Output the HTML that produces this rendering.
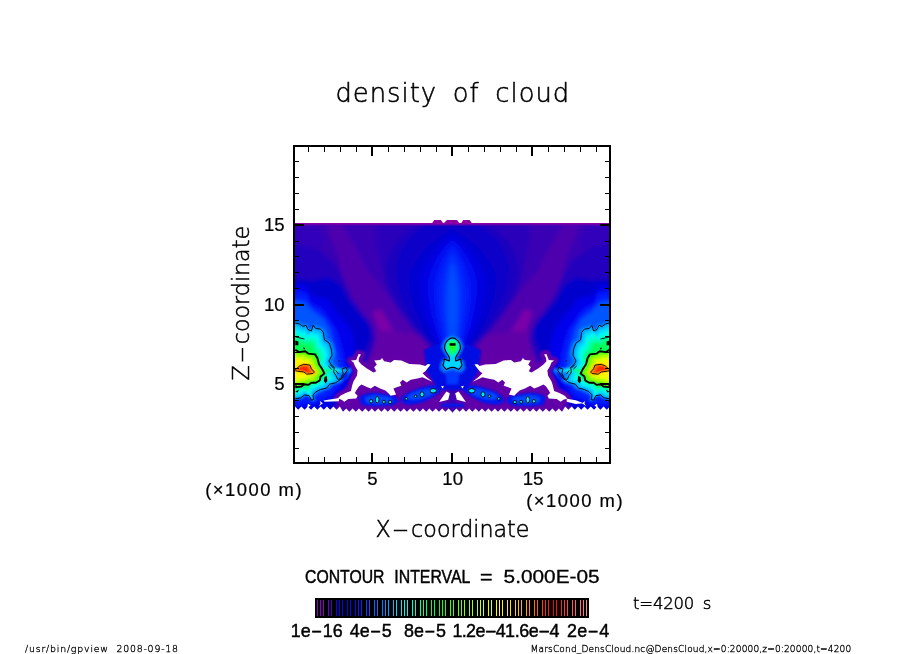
<!DOCTYPE html>
<html><head><meta charset="utf-8"><title>density of cloud</title>
<style>html,body{margin:0;padding:0;background:#fff;overflow:hidden}svg{display:block}text{fill:#000}.th{stroke:#000;stroke-width:.5px}.sm{stroke:#000;stroke-width:.3px}.tk{stroke:#000;stroke-width:.2px}.m2{stroke:#000;stroke-width:.3px}.md{stroke:#000;stroke-width:.45px}</style>
</head><body>
<svg width="904" height="654" viewBox="0 0 904 654">
<defs>
<clipPath id="fc"><rect x="295" y="223" width="314" height="190"/></clipPath>
<filter id="bl3" x="-10%" y="-10%" width="120%" height="120%"><feGaussianBlur stdDeviation="2.2"/></filter>
<filter id="bl1" x="-10%" y="-10%" width="120%" height="120%"><feGaussianBlur stdDeviation="1.1"/></filter>
</defs>
<rect width="904" height="654" fill="#fff"/>
<g clip-path="url(#fc)">
<rect x="280" y="215" width="345" height="205" fill="#3a00b4"/>
<g filter="url(#bl3)"><polygon points="326.0,222.0 331.0,240.0 338.0,255.0 342.0,272.0 346.0,290.0 358.0,305.0 365.0,318.0 370.0,332.0 385.0,362.0 440.0,362.0 414.0,330.0 398.0,310.0 384.0,290.0 366.5,270.0 357.0,250.0 348.0,235.0 340.0,222.0" fill="#5000ae"/><polygon points="579.0,222.0 574.0,240.0 567.0,255.0 563.0,272.0 559.0,290.0 547.0,305.0 540.0,318.0 535.0,332.0 520.0,362.0 465.0,362.0 491.0,330.0 507.0,310.0 521.0,290.0 538.5,270.0 548.0,250.0 557.0,235.0 565.0,222.0" fill="#5000ae"/><polygon points="373.0,312.0 380.0,309.0 392.0,328.0 400.0,346.0 388.0,346.0 378.0,328.0" fill="#7c00a8"/><polygon points="532.0,312.0 525.0,309.0 513.0,328.0 505.0,346.0 517.0,346.0 527.0,328.0" fill="#7c00a8"/><polygon points="345.0,340.0 380.0,330.0 420.0,335.0 445.0,350.0 450.0,412.0 330.0,412.0 335.0,380.0" fill="#6000a8"/><polygon points="560.0,340.0 525.0,330.0 485.0,335.0 460.0,350.0 455.0,412.0 575.0,412.0 570.0,380.0" fill="#6000a8"/><polygon points="280.0,226.0 318.0,226.0 325.0,240.0 318.0,262.0 280.0,266.0" fill="#3000ba"/><polygon points="625.0,226.0 587.0,226.0 580.0,240.0 587.0,262.0 625.0,266.0" fill="#3000ba"/><polygon points="378.5,222.0 374.5,230.0 377.5,250.0 382.5,272.0 386.5,290.0 398.5,310.0 414.5,330.0 428.5,346.0 452.5,364.0 476.5,346.0 490.5,330.0 506.5,310.0 518.5,290.0 522.5,272.0 527.5,250.0 530.5,230.0 526.5,222.0" fill="#2a00ba"/><polygon points="421.3,222.0 404.7,232.0 392.2,247.0 385.9,265.0 387.0,281.0 393.2,298.0 402.6,315.0 415.1,331.0 426.5,342.0 439.0,354.0 452.5,364.0 466.0,354.0 478.5,342.0 489.9,331.0 502.4,315.0 511.8,298.0 518.0,281.0 519.1,265.0 512.8,247.0 500.3,232.0 483.7,222.0" fill="#1a00c0"/><polygon points="426.1,225.0 412.0,234.8 401.5,249.5 396.2,267.1 397.1,282.8 402.3,299.4 410.3,316.0 420.8,331.7 430.5,342.5 441.1,354.2 452.5,364.0 463.9,354.2 474.5,342.5 484.2,331.7 494.7,316.0 502.7,299.4 507.9,282.8 508.8,267.1 503.5,249.5 493.0,234.8 478.9,225.0" fill="#0a00c8"/><polygon points="452.5,229.0 439.4,237.1 426.4,247.9 415.5,261.4 409.0,274.9 410.3,291.1 414.2,307.3 421.2,323.5 428.6,337.0 439.4,350.5 452.5,364.0 465.6,350.5 476.4,337.0 483.8,323.5 490.8,307.3 494.7,291.1 496.0,274.9 489.5,261.4 478.6,247.9 465.6,237.1 452.5,229.0" fill="#0000d2"/><polygon points="452.5,234.0 442.5,241.8 432.5,252.2 424.2,265.2 419.2,278.2 420.2,293.8 423.2,309.4 428.5,325.0 434.2,338.0 442.5,351.0 452.5,364.0 462.5,351.0 470.8,338.0 476.5,325.0 481.8,309.4 484.8,293.8 485.8,278.2 480.8,265.2 472.5,252.2 462.5,241.8 452.5,234.0" fill="#0000e1"/><polygon points="452.5,239.0 445.0,246.5 437.5,256.5 431.3,269.0 427.5,281.5 428.3,296.5 430.5,311.5 434.5,326.5 438.8,339.0 445.0,351.5 452.5,364.0 460.0,351.5 466.2,339.0 470.5,326.5 474.5,311.5 476.7,296.5 477.5,281.5 473.7,269.0 467.5,256.5 460.0,246.5 452.5,239.0" fill="#000af0"/><polygon points="452.5,245.0 447.1,252.1 441.7,261.7 437.3,273.6 434.6,285.5 435.1,299.7 436.7,314.0 439.6,328.3 442.6,340.2 447.1,352.1 452.5,364.0 457.9,352.1 462.4,340.2 465.4,328.3 468.3,314.0 469.9,299.7 470.4,285.5 467.7,273.6 463.3,261.7 457.9,252.1 452.5,245.0" fill="#001efa"/><polygon points="452.5,252.0 449.2,258.7 446.0,267.7 443.3,278.9 441.6,290.1 441.9,303.5 442.9,317.0 444.7,330.4 446.5,341.6 449.2,352.8 452.5,364.0 455.8,352.8 458.5,341.6 460.3,330.4 462.1,317.0 463.1,303.5 463.4,290.1 461.7,278.9 459.0,267.7 455.8,258.7 452.5,252.0" fill="#0032ff"/><polygon points="452.5,262.0 450.9,268.1 449.2,276.3 447.9,286.5 447.1,296.7 447.2,308.9 447.7,321.2 448.6,333.4 449.5,343.6 450.9,353.8 452.5,364.0 454.1,353.8 455.5,343.6 456.4,333.4 457.3,321.2 457.8,308.9 457.9,296.7 457.1,286.5 455.8,276.3 454.1,268.1 452.5,262.0" fill="#004eff"/><polygon points="270.0,246.0 300.0,244.0 318.0,250.0 334.0,262.0 344.0,280.0 352.0,298.0 362.0,312.0 371.0,324.0 376.0,338.0 372.0,352.0 366.0,366.0 270.0,366.0" fill="#2200be"/><polygon points="635.0,246.0 605.0,244.0 587.0,250.0 571.0,262.0 561.0,280.0 553.0,298.0 543.0,312.0 534.0,324.0 529.0,338.0 533.0,352.0 539.0,366.0 635.0,366.0" fill="#2200be"/><polygon points="270.0,279.0 295.0,279.0 313.0,280.5 328.0,277.5 340.4,285.0 348.0,300.4 357.0,311.0 366.4,320.0 371.0,329.5 369.5,341.7 364.0,352.0 359.0,366.0 353.0,380.0 345.0,394.0 332.0,414.0 270.0,414.0" fill="#0000cc"/><polygon points="635.0,279.0 610.0,279.0 592.0,280.5 577.0,277.5 564.6,285.0 557.0,300.4 548.0,311.0 538.6,320.0 534.0,329.5 535.5,341.7 541.0,352.0 546.0,366.0 552.0,380.0 560.0,394.0 573.0,414.0 635.0,414.0" fill="#0000cc"/><polygon points="270.0,285.0 295.0,285.0 305.0,285.0 313.0,296.0 328.0,299.0 336.0,311.0 343.5,319.0 351.0,329.5 354.0,341.7 355.0,354.0 354.0,366.0 348.0,382.0 338.0,398.0 325.0,408.0 270.0,410.0" fill="#0000ec"/><polygon points="635.0,285.0 610.0,285.0 600.0,285.0 592.0,296.0 577.0,299.0 569.0,311.0 561.5,319.0 554.0,329.5 551.0,341.7 550.0,354.0 551.0,366.0 557.0,382.0 567.0,398.0 580.0,408.0 635.0,410.0" fill="#0000ec"/><polygon points="270.0,291.0 295.0,291.0 307.0,293.0 310.0,303.5 320.5,308.0 328.0,317.0 336.0,329.5 340.4,341.7 343.0,354.0 345.0,366.0 342.0,382.0 330.0,396.0 312.0,404.0 270.0,406.0" fill="#001cff"/><polygon points="635.0,291.0 610.0,291.0 598.0,293.0 595.0,303.5 584.5,308.0 577.0,317.0 569.0,329.5 564.6,341.7 562.0,354.0 560.0,366.0 563.0,382.0 575.0,396.0 593.0,404.0 635.0,406.0" fill="#001cff"/><polygon points="270.0,300.4 295.0,300.4 305.0,302.0 313.0,311.0 323.6,319.0 329.7,329.5 332.8,341.7 336.0,354.0 338.0,364.0 334.0,380.0 322.0,392.0 270.0,400.0" fill="#0054ff"/><polygon points="635.0,300.4 610.0,300.4 600.0,302.0 592.0,311.0 581.4,319.0 575.3,329.5 572.2,341.7 569.0,354.0 567.0,364.0 571.0,380.0 583.0,392.0 635.0,400.0" fill="#0054ff"/></g>
<g filter="url(#bl1)"><polygon points="279.3,319.1 295.3,320.7 299.5,321.5 303.7,324.2 307.0,323.1 309.2,327.4 312.9,329.1 315.0,323.1 317.6,326.3 323.0,327.1 326.0,330.3 327.2,338.4 332.3,341.6 334.8,348.0 335.6,354.4 332.3,360.5 334.4,364.4 338.1,367.2 337.3,372.1 339.8,375.6 341.8,379.8 345.2,379.3 347.9,373.7 346.6,369.2 351.3,367.2 352.4,370.4 348.6,375.6 346.6,378.8 339.8,383.3 333.1,384.9 329.7,388.9 323.0,390.5 318.0,392.9 314.6,396.1 315.5,400.9 312.9,401.7 310.4,396.9 305.4,396.1 301.2,399.3 295.3,400.1 279.3,400.9" fill="#0078ff"/><polygon points="625.7,319.1 609.7,320.7 605.5,321.5 601.3,324.2 598.0,323.1 595.8,327.4 592.1,329.1 590.0,323.1 587.4,326.3 582.0,327.1 579.0,330.3 577.8,338.4 572.7,341.6 570.2,348.0 569.4,354.4 572.7,360.5 570.6,364.4 566.9,367.2 567.7,372.1 565.2,375.6 563.2,379.8 559.8,379.3 557.1,373.7 558.4,369.2 553.7,367.2 552.6,370.4 556.4,375.6 558.4,378.8 565.2,383.3 571.9,384.9 575.3,388.9 582.0,390.5 587.0,392.9 590.4,396.1 589.5,400.9 592.1,401.7 594.6,396.9 599.6,396.1 603.8,399.3 609.7,400.1 625.7,400.9" fill="#0078ff"/><polygon points="280.8,321.5 295.3,323.1 299.2,323.8 303.0,326.4 306.0,325.3 308.0,329.5 311.4,331.0 313.2,325.3 315.7,328.4 320.6,329.2 323.3,332.2 324.4,339.9 329.0,342.9 331.3,349.0 332.0,355.1 329.0,361.0 331.0,364.6 334.3,367.4 333.6,372.0 335.8,375.3 337.7,379.3 340.7,378.8 343.2,373.5 342.0,369.2 346.2,367.4 347.3,370.4 343.8,375.3 342.0,378.4 335.8,382.7 329.7,384.2 326.7,388.0 320.6,389.5 316.0,391.8 312.9,394.9 313.7,399.5 311.4,400.2 309.1,395.6 304.5,394.9 300.7,397.9 295.3,398.7 280.8,399.5" fill="#00aaff"/><polygon points="624.2,321.5 609.7,323.1 605.8,323.8 602.0,326.4 599.0,325.3 597.0,329.5 593.6,331.0 591.8,325.3 589.3,328.4 584.4,329.2 581.7,332.2 580.6,339.9 576.0,342.9 573.7,349.0 573.0,355.1 576.0,361.0 574.0,364.6 570.7,367.4 571.4,372.0 569.2,375.3 567.3,379.3 564.3,378.8 561.8,373.5 563.0,369.2 558.8,367.4 557.7,370.4 561.2,375.3 563.0,378.4 569.2,382.7 575.3,384.2 578.3,388.0 584.4,389.5 589.0,391.8 592.1,394.9 591.3,399.5 593.6,400.2 595.9,395.6 600.5,394.9 604.3,397.9 609.7,398.7 624.2,399.5" fill="#00aaff"/><polygon points="281.9,324.9 295.4,326.3 298.9,327.1 302.5,329.5 305.3,328.5 307.2,332.3 310.3,333.7 312.0,328.5 314.3,331.3 318.8,332.0 321.4,334.9 322.4,342.0 326.7,344.8 328.8,350.5 329.5,356.2 326.7,361.6 328.5,365.0 331.6,367.6 330.9,371.8 333.1,374.9 334.8,378.6 337.6,378.2 339.9,373.2 338.7,369.3 342.7,367.6 343.7,370.4 340.4,374.9 338.7,377.8 333.1,381.8 327.4,383.2 324.5,386.7 318.8,388.2 314.6,390.3 311.7,393.1 312.4,397.4 310.3,398.1 308.2,393.8 303.9,393.1 300.4,396.0 295.4,396.7 281.9,397.4" fill="#00d7ff"/><polygon points="623.1,324.9 609.6,326.3 606.1,327.1 602.5,329.5 599.7,328.5 597.8,332.3 594.7,333.7 593.0,328.5 590.7,331.3 586.2,332.0 583.6,334.9 582.6,342.0 578.3,344.8 576.2,350.5 575.5,356.2 578.3,361.6 576.5,365.0 573.4,367.6 574.1,371.8 571.9,374.9 570.2,378.6 567.4,378.2 565.1,373.2 566.3,369.3 562.3,367.6 561.3,370.4 564.6,374.9 566.3,377.8 571.9,381.8 577.6,383.2 580.5,386.7 586.2,388.2 590.4,390.3 593.3,393.1 592.6,397.4 594.7,398.1 596.8,393.8 601.1,393.1 604.6,396.0 609.6,396.7 623.1,397.4" fill="#00d7ff"/><polygon points="283.1,328.8 295.4,330.1 298.7,330.7 301.9,333.0 304.5,332.0 306.2,335.6 309.1,336.9 310.6,332.0 312.7,334.6 316.9,335.3 319.2,337.9 320.1,344.4 324.0,347.0 326.0,352.2 326.6,357.4 324.0,362.3 325.7,365.4 328.6,367.8 327.9,371.7 329.9,374.5 331.4,377.9 334.0,377.5 336.1,373.0 335.1,369.3 338.7,367.8 339.6,370.4 336.6,374.5 335.1,377.1 329.9,380.8 324.7,382.1 322.1,385.3 316.9,386.6 313.0,388.5 310.4,391.1 311.0,395.0 309.1,395.7 307.1,391.8 303.2,391.1 300.0,393.7 295.4,394.4 283.1,395.0" fill="#00faf0"/><polygon points="621.9,328.8 609.6,330.1 606.3,330.7 603.1,333.0 600.5,332.0 598.8,335.6 595.9,336.9 594.4,332.0 592.3,334.6 588.1,335.3 585.8,337.9 584.9,344.4 581.0,347.0 579.0,352.2 578.4,357.4 581.0,362.3 579.3,365.4 576.4,367.8 577.1,371.7 575.1,374.5 573.6,377.9 571.0,377.5 568.9,373.0 569.9,369.3 566.3,367.8 565.4,370.4 568.4,374.5 569.9,377.1 575.1,380.8 580.3,382.1 582.9,385.3 588.1,386.6 592.0,388.5 594.6,391.1 594.0,395.0 595.9,395.7 597.9,391.8 601.8,391.1 605.0,393.7 609.6,394.4 621.9,395.0" fill="#00faf0"/><polygon points="284.3,332.7 295.5,333.9 298.4,334.4 301.4,336.4 303.7,335.6 305.3,338.8 307.9,340.0 309.3,335.6 311.1,338.0 314.9,338.6 317.0,340.9 317.9,346.8 321.4,349.1 323.1,353.9 323.7,358.6 321.4,363.0 322.9,365.9 325.5,368.0 324.9,371.5 326.7,374.1 328.1,377.2 330.4,376.8 332.3,372.7 331.4,369.4 334.7,368.0 335.5,370.3 332.8,374.1 331.4,376.4 326.7,379.7 322.0,380.9 319.6,383.9 314.9,385.0 311.4,386.8 309.0,389.2 309.6,392.7 307.9,393.3 306.1,389.7 302.6,389.2 299.6,391.5 295.5,392.1 284.3,392.7" fill="#00ffbe"/><polygon points="620.7,332.7 609.5,333.9 606.6,334.4 603.6,336.4 601.3,335.6 599.7,338.8 597.1,340.0 595.7,335.6 593.9,338.0 590.1,338.6 588.0,340.9 587.1,346.8 583.6,349.1 581.9,353.9 581.3,358.6 583.6,363.0 582.1,365.9 579.5,368.0 580.1,371.5 578.3,374.1 576.9,377.2 574.6,376.8 572.7,372.7 573.6,369.4 570.3,368.0 569.5,370.3 572.2,374.1 573.6,376.4 578.3,379.7 583.0,380.9 585.4,383.9 590.1,385.0 593.6,386.8 596.0,389.2 595.4,392.7 597.1,393.3 598.9,389.7 602.4,389.2 605.4,391.5 609.5,392.1 620.7,392.7" fill="#00ffbe"/><polygon points="285.5,336.6 295.6,337.6 298.2,338.1 300.8,339.9 302.9,339.2 304.3,342.0 306.6,343.1 307.9,339.2 309.6,341.3 312.9,341.8 314.8,343.9 315.6,349.2 318.7,351.3 320.3,355.5 320.9,359.8 318.7,363.8 320.1,366.3 322.4,368.2 321.9,371.3 323.5,373.7 324.8,376.4 326.9,376.1 328.6,372.4 327.7,369.5 330.7,368.2 331.4,370.3 329.0,373.7 327.7,375.8 323.5,378.7 319.3,379.8 317.2,382.4 312.9,383.5 309.8,385.1 307.7,387.2 308.2,390.3 306.6,390.9 305.0,387.7 301.9,387.2 299.2,389.3 295.6,389.8 285.5,390.3" fill="#00ff8c"/><polygon points="619.5,336.6 609.4,337.6 606.8,338.1 604.2,339.9 602.1,339.2 600.7,342.0 598.4,343.1 597.1,339.2 595.4,341.3 592.1,341.8 590.2,343.9 589.4,349.2 586.3,351.3 584.7,355.5 584.1,359.8 586.3,363.8 584.9,366.3 582.6,368.2 583.1,371.3 581.5,373.7 580.2,376.4 578.1,376.1 576.4,372.4 577.3,369.5 574.3,368.2 573.6,370.3 576.0,373.7 577.3,375.8 581.5,378.7 585.7,379.8 587.8,382.4 592.1,383.5 595.2,385.1 597.3,387.2 596.8,390.3 598.4,390.9 600.0,387.7 603.1,387.2 605.8,389.3 609.4,389.8 619.5,390.3" fill="#00ff8c"/><polygon points="286.4,339.5 295.6,340.4 298.0,340.9 300.4,342.5 302.3,341.9 303.6,344.5 305.7,345.4 306.9,341.9 308.4,343.8 311.5,344.3 313.2,346.2 313.9,351.0 316.8,352.9 318.2,356.8 318.7,360.6 316.8,364.3 318.0,366.6 320.1,368.3 319.7,371.2 321.1,373.4 322.3,375.9 324.2,375.6 325.7,372.2 325.0,369.5 327.6,368.3 328.3,370.3 326.1,373.4 325.0,375.3 321.1,378.0 317.3,378.9 315.3,381.3 311.5,382.3 308.6,383.7 306.7,385.7 307.1,388.6 305.7,389.0 304.3,386.2 301.4,385.7 299.0,387.6 295.6,388.1 286.4,388.6" fill="#00ff5a"/><polygon points="618.6,339.5 609.4,340.4 607.0,340.9 604.6,342.5 602.7,341.9 601.4,344.5 599.3,345.4 598.1,341.9 596.6,343.8 593.5,344.3 591.8,346.2 591.1,351.0 588.2,352.9 586.8,356.8 586.3,360.6 588.2,364.3 587.0,366.6 584.9,368.3 585.3,371.2 583.9,373.4 582.7,375.9 580.8,375.6 579.3,372.2 580.0,369.5 577.4,368.3 576.7,370.3 578.9,373.4 580.0,375.3 583.9,378.0 587.7,378.9 589.7,381.3 593.5,382.3 596.4,383.7 598.3,385.7 597.9,388.6 599.3,389.0 600.7,386.2 603.6,385.7 606.0,387.6 609.4,388.1 618.6,388.6" fill="#00ff5a"/><polygon points="280.8,349.0 295.3,349.8 299.2,352.1 305.3,351.3 308.3,353.6 315.2,354.4 317.5,358.2 319.0,364.3 322.1,368.9 324.4,373.5 320.6,376.5 319.8,380.4 316.0,382.7 311.4,382.7 308.3,384.9 304.5,384.2 301.5,386.5 295.3,387.2 280.8,388.0" fill="#3cff00"/><polygon points="624.2,349.0 609.7,349.8 605.8,352.1 599.7,351.3 596.7,353.6 589.8,354.4 587.5,358.2 586.0,364.3 582.9,368.9 580.6,373.5 584.4,376.5 585.2,380.4 589.0,382.7 593.6,382.7 596.7,384.9 600.5,384.2 603.5,386.5 609.7,387.2 624.2,388.0" fill="#3cff00"/><polygon points="282.7,351.4 295.4,352.1 298.8,354.1 304.2,353.4 306.9,355.5 312.9,356.1 314.9,359.5 316.3,364.9 319.0,368.9 321.0,372.9 317.6,375.6 316.9,379.0 313.6,381.0 309.5,381.0 306.9,383.0 303.5,382.4 300.8,384.4 295.4,385.0 282.7,385.7" fill="#8cff00"/><polygon points="622.3,351.4 609.6,352.1 606.2,354.1 600.8,353.4 598.1,355.5 592.1,356.1 590.1,359.5 588.7,364.9 586.0,368.9 584.0,372.9 587.4,375.6 588.1,379.0 591.4,381.0 595.5,381.0 598.1,383.0 601.5,382.4 604.2,384.4 609.6,385.0 622.3,385.7" fill="#8cff00"/><polygon points="284.5,353.8 295.5,354.4 298.4,356.1 303.1,355.6 305.4,357.3 310.6,357.9 312.3,360.8 313.5,365.4 315.8,368.9 317.6,372.4 314.7,374.7 314.1,377.6 311.2,379.4 307.7,379.4 305.4,381.1 302.5,380.5 300.2,382.3 295.5,382.9 284.5,383.4" fill="#beff00"/><polygon points="620.5,353.8 609.5,354.4 606.6,356.1 601.9,355.6 599.6,357.3 594.4,357.9 592.7,360.8 591.5,365.4 589.2,368.9 587.4,372.4 590.3,374.7 590.9,377.6 593.8,379.4 597.3,379.4 599.6,381.1 602.5,380.5 604.8,382.3 609.5,382.9 620.5,383.4" fill="#beff00"/><polygon points="286.3,356.2 295.6,356.7 298.0,358.2 301.9,357.7 303.9,359.2 308.3,359.6 309.8,362.1 310.7,366.0 312.7,368.9 314.2,371.9 311.7,373.8 311.2,376.3 308.8,377.7 305.9,377.7 303.9,379.2 301.5,378.7 299.5,380.2 295.6,380.7 286.3,381.2" fill="#e6ff00"/><polygon points="618.7,356.2 609.4,356.7 607.0,358.2 603.1,357.7 601.1,359.2 596.7,359.6 595.2,362.1 594.3,366.0 592.3,368.9 590.8,371.9 593.3,373.8 593.8,376.3 596.2,377.7 599.1,377.7 601.1,379.2 603.5,378.7 605.5,380.2 609.4,380.7 618.7,381.2" fill="#e6ff00"/><polygon points="288.4,359.0 295.7,359.4 297.6,360.5 300.6,360.2 302.2,361.3 305.6,361.7 306.8,363.6 307.5,366.7 309.0,368.9 310.2,371.2 308.3,372.8 307.9,374.7 306.0,375.8 303.7,375.8 302.2,377.0 300.3,376.6 298.7,377.7 295.7,378.1 288.4,378.5" fill="#fff500"/><polygon points="616.6,359.0 609.3,359.4 607.4,360.5 604.4,360.2 602.8,361.3 599.4,361.7 598.2,363.6 597.5,366.7 596.0,368.9 594.8,371.2 596.7,372.8 597.1,374.7 599.0,375.8 601.3,375.8 602.8,377.0 604.7,376.6 606.3,377.7 609.3,378.1 616.6,378.5" fill="#fff500"/><polygon points="276.6,369.3 294.3,369.8 299.9,365.1 304.6,363.3 312.0,364.2 313.9,368.9 317.6,372.6 315.8,374.5 308.3,375.4 304.6,372.6 297.1,371.7 294.3,371.1 276.6,371.5" fill="#ffc800"/><polygon points="628.4,369.3 610.7,369.8 605.1,365.1 600.4,363.3 593.0,364.2 591.1,368.9 587.4,372.6 589.2,374.5 596.7,375.4 600.4,372.6 607.9,371.7 610.7,371.1 628.4,371.5" fill="#ffc800"/><polygon points="280.8,369.2 295.3,369.7 299.9,365.8 303.8,364.3 309.9,365.1 311.4,368.9 314.4,372.0 312.9,373.5 306.8,374.2 303.8,372.0 297.6,371.2 295.3,370.7 280.8,371.0" fill="#ff6400"/><polygon points="624.2,369.2 609.7,369.7 605.1,365.8 601.2,364.3 595.1,365.1 593.6,368.9 590.6,372.0 592.1,373.5 598.2,374.2 601.2,372.0 607.4,371.2 609.7,370.7 624.2,371.0" fill="#ff6400"/><polygon points="286.6,369.1 296.7,369.5 300.0,366.8 302.6,365.7 306.9,366.3 308.0,368.9 310.1,371.1 309.0,372.1 304.8,372.7 302.6,371.1 298.3,370.5 296.7,370.2 286.6,370.4" fill="#ff2800"/><polygon points="618.4,369.1 608.3,369.5 605.0,366.8 602.4,365.7 598.1,366.3 597.0,368.9 594.9,371.1 596.0,372.1 600.2,372.7 602.4,371.1 606.7,370.5 608.3,370.2 618.4,370.4" fill="#ff2800"/></g>
<g filter="url(#bl1)"><polygon points="350.9,360.6 356.2,359.9 358.6,353.9 360.9,354.6 358.9,357.9 358.6,361.2 361.5,364.6 366.9,368.5 373.5,372.5 376.2,371.2 374.2,367.2 376.8,364.6 374.2,360.6 380.1,359.9 382.1,357.9 384.1,361.2 390.8,362.6 394.1,359.9 401.4,360.6 409.3,363.9 420.0,364.6 425.3,365.9 427.9,363.9 430.6,364.6 427.9,367.9 425.3,371.2 422.6,373.2 426.6,377.2 432.6,381.8 427.9,379.8 422.6,377.2 417.3,378.5 410.7,379.8 406.7,382.5 402.7,379.8 400.0,382.5 401.4,385.8 397.4,387.1 393.4,388.5 396.1,394.4 390.8,395.8 388.1,393.1 385.4,390.4 380.1,388.5 374.8,385.8 370.8,388.5 366.9,387.1 361.5,384.5 358.9,386.5 356.2,390.4 354.9,393.1 357.6,395.8 356.2,398.4 348.3,399.1 344.3,401.7 341.6,399.7 337.7,398.4 340.3,395.8 345.6,393.1 350.9,391.1 352.3,385.1 353.6,381.2 356.9,375.8 357.6,370.5 354.9,365.9 353.6,362.6" fill="#6400a8" stroke="#6400a8" stroke-width="8" stroke-linejoin="round"/><polygon points="554.1,360.6 548.8,359.9 546.4,353.9 544.1,354.6 546.1,357.9 546.4,361.2 543.5,364.6 538.1,368.5 531.5,372.5 528.8,371.2 530.8,367.2 528.2,364.6 530.8,360.6 524.9,359.9 522.9,357.9 520.9,361.2 514.2,362.6 510.9,359.9 503.6,360.6 495.7,363.9 485.0,364.6 479.7,365.9 477.1,363.9 474.4,364.6 477.1,367.9 479.7,371.2 482.4,373.2 478.4,377.2 472.4,381.8 477.1,379.8 482.4,377.2 487.7,378.5 494.3,379.8 498.3,382.5 502.3,379.8 505.0,382.5 503.6,385.8 507.6,387.1 511.6,388.5 508.9,394.4 514.2,395.8 516.9,393.1 519.6,390.4 524.9,388.5 530.2,385.8 534.2,388.5 538.1,387.1 543.5,384.5 546.1,386.5 548.8,390.4 550.1,393.1 547.4,395.8 548.8,398.4 556.7,399.1 560.7,401.7 563.4,399.7 567.3,398.4 564.7,395.8 559.4,393.1 554.1,391.1 552.7,385.1 551.4,381.2 548.1,375.8 547.4,370.5 550.1,365.9 551.4,362.6" fill="#6400a8" stroke="#6400a8" stroke-width="8" stroke-linejoin="round"/></g>
<g filter="url(#bl1)"><polygon points="358.9,397.1 365.5,393.8 374.8,392.4 388.1,394.4 397.4,397.1 398.7,402.4 390.8,405.7 374.8,406.4 361.5,405.0" fill="#0018f0"/><polygon points="546.1,397.1 539.5,393.8 530.2,392.4 516.9,394.4 507.6,397.1 506.3,402.4 514.2,405.7 530.2,406.4 543.5,405.0" fill="#0018f0"/><polygon points="364.6,398.0 369.3,396.1 375.8,395.3 385.1,396.5 391.6,398.0 392.5,401.2 386.9,403.2 375.8,403.6 366.5,402.8" fill="#0046ff"/><polygon points="540.4,398.0 535.7,396.1 529.2,395.3 519.9,396.5 513.4,398.0 512.5,401.2 518.1,403.2 529.2,403.6 538.5,402.8" fill="#0046ff"/><polygon points="401.4,397.1 409.3,391.8 420.0,387.8 430.6,385.1 439.9,386.5 441.2,391.8 433.2,397.1 422.6,402.4 409.3,405.0 401.4,402.4" fill="#0018f0"/><polygon points="503.6,397.1 495.7,391.8 485.0,387.8 474.4,385.1 465.1,386.5 463.8,391.8 471.8,397.1 482.4,402.4 495.7,405.0 503.6,402.4" fill="#0018f0"/><polygon points="407.3,395.7 412.8,392.8 420.3,390.6 427.7,389.1 434.2,389.9 435.1,392.8 429.6,395.7 422.1,398.6 412.8,400.1 407.3,398.6" fill="#0046ff"/><polygon points="497.7,395.7 492.2,392.8 484.7,390.6 477.3,389.1 470.8,389.9 469.9,392.8 475.4,395.7 482.9,398.6 492.2,400.1 497.7,398.6" fill="#0046ff"/><polygon points="424.0,350.0 436.0,344.0 469.0,344.0 481.0,350.0 478.0,372.0 466.0,390.0 439.0,390.0 427.0,372.0" fill="#0008e2"/><polygon points="445.0,366.0 460.0,366.0 458.0,384.0 447.0,384.0" fill="#0038ff"/><polygon points="441.0,403.5 464.0,403.5 464.0,407.0 441.0,407.0" fill="#0014ec"/><polygon points="452.5,335.0 449.0,335.9 445.5,338.3 442.4,342.4 441.7,347.4 443.7,352.0 446.7,356.0 448.4,359.2 448.2,362.8 441.3,360.4 440.9,364.0 439.7,367.8 441.7,370.7 444.1,372.9 448.4,371.1 452.5,370.2 452.5,370.2 456.6,371.1 460.9,372.9 463.3,370.7 465.3,367.8 464.1,364.0 463.7,360.4 456.8,362.8 456.6,359.2 458.3,356.0 461.3,352.0 463.3,347.4 462.6,342.4 459.5,338.3 456.0,335.9 452.5,335.0" fill="#006eff"/><polygon points="452.5,337.8 449.9,338.6 447.3,340.6 445.0,344.0 444.5,348.2 446.0,352.0 448.2,355.3 449.5,358.0 449.3,361.0 444.2,359.0 443.9,362.0 443.0,365.2 444.5,367.6 446.3,369.4 449.5,367.9 452.5,367.2 452.5,367.2 455.5,367.9 458.7,369.4 460.5,367.6 462.0,365.2 461.1,362.0 460.8,359.0 455.7,361.0 455.5,358.0 456.8,355.3 459.0,352.0 460.5,348.2 460.0,344.0 457.7,340.6 455.1,338.6 452.5,337.8" fill="#00d7ff"/><polygon points="452.5,339.5 448.5,341.0 446.5,345.5 447.0,350.0 449.5,354.0 452.5,356.0 452.5,356.0 455.5,354.0 458.0,350.0 458.5,345.5 456.5,341.0 452.5,339.5" fill="#00ff78"/><polygon points="452.5,341.5 449.5,343.0 448.7,346.5 450.0,350.0 452.5,352.0 452.5,352.0 455.0,350.0 456.3,346.5 455.5,343.0 452.5,341.5" fill="#28ff28"/></g>
<ellipse cx="377.2" cy="399.7" rx="1.8" ry="3.2" fill="#00e8ff" stroke="#000" stroke-width="0.9"/><ellipse cx="527.8" cy="399.7" rx="1.8" ry="3.2" fill="#00e8ff" stroke="#000" stroke-width="0.9"/><ellipse cx="371.1" cy="401.3" rx="1.6" ry="1.8" fill="#00e8ff" stroke="#000" stroke-width="0.9"/><ellipse cx="533.9" cy="401.3" rx="1.6" ry="1.8" fill="#00e8ff" stroke="#000" stroke-width="0.9"/><ellipse cx="383.9" cy="401.9" rx="1.4" ry="1.6" fill="#00e8ff" stroke="#000" stroke-width="0.9"/><ellipse cx="521.1" cy="401.9" rx="1.4" ry="1.6" fill="#00e8ff" stroke="#000" stroke-width="0.9"/><ellipse cx="390.1" cy="402.1" rx="1.6" ry="1.6" fill="#00e8ff" stroke="#000" stroke-width="0.9"/><ellipse cx="514.9" cy="402.1" rx="1.6" ry="1.6" fill="#00e8ff" stroke="#000" stroke-width="0.9"/><ellipse cx="433.2" cy="390.8" rx="3.2" ry="2.2" fill="#00e8ff" stroke="#000" stroke-width="0.9"/><ellipse cx="471.8" cy="390.8" rx="3.2" ry="2.2" fill="#00e8ff" stroke="#000" stroke-width="0.9"/><ellipse cx="422.0" cy="394.4" rx="2.0" ry="2.6" fill="#00e8ff" stroke="#000" stroke-width="0.9"/><ellipse cx="483.0" cy="394.4" rx="2.0" ry="2.6" fill="#00e8ff" stroke="#000" stroke-width="0.9"/><ellipse cx="415.6" cy="396.2" rx="1.3" ry="1.3" fill="#00e8ff" stroke="#000" stroke-width="0.9"/><ellipse cx="489.4" cy="396.2" rx="1.3" ry="1.3" fill="#00e8ff" stroke="#000" stroke-width="0.9"/><ellipse cx="406.3" cy="398.8" rx="1.3" ry="1.3" fill="#00e8ff" stroke="#000" stroke-width="0.9"/><ellipse cx="498.7" cy="398.8" rx="1.3" ry="1.3" fill="#00e8ff" stroke="#000" stroke-width="0.9"/>
<polygon points="350.9,360.6 356.2,359.9 358.6,353.9 360.9,354.6 358.9,357.9 358.6,361.2 361.5,364.6 366.9,368.5 373.5,372.5 376.2,371.2 374.2,367.2 376.8,364.6 374.2,360.6 380.1,359.9 382.1,357.9 384.1,361.2 390.8,362.6 394.1,359.9 401.4,360.6 409.3,363.9 420.0,364.6 425.3,365.9 427.9,363.9 430.6,364.6 427.9,367.9 425.3,371.2 422.6,373.2 426.6,377.2 432.6,381.8 427.9,379.8 422.6,377.2 417.3,378.5 410.7,379.8 406.7,382.5 402.7,379.8 400.0,382.5 401.4,385.8 397.4,387.1 393.4,388.5 396.1,394.4 390.8,395.8 388.1,393.1 385.4,390.4 380.1,388.5 374.8,385.8 370.8,388.5 366.9,387.1 361.5,384.5 358.9,386.5 356.2,390.4 354.9,393.1 357.6,395.8 356.2,398.4 348.3,399.1 344.3,401.7 341.6,399.7 337.7,398.4 340.3,395.8 345.6,393.1 350.9,391.1 352.3,385.1 353.6,381.2 356.9,375.8 357.6,370.5 354.9,365.9 353.6,362.6" fill="#fff"/><polygon points="554.1,360.6 548.8,359.9 546.4,353.9 544.1,354.6 546.1,357.9 546.4,361.2 543.5,364.6 538.1,368.5 531.5,372.5 528.8,371.2 530.8,367.2 528.2,364.6 530.8,360.6 524.9,359.9 522.9,357.9 520.9,361.2 514.2,362.6 510.9,359.9 503.6,360.6 495.7,363.9 485.0,364.6 479.7,365.9 477.1,363.9 474.4,364.6 477.1,367.9 479.7,371.2 482.4,373.2 478.4,377.2 472.4,381.8 477.1,379.8 482.4,377.2 487.7,378.5 494.3,379.8 498.3,382.5 502.3,379.8 505.0,382.5 503.6,385.8 507.6,387.1 511.6,388.5 508.9,394.4 514.2,395.8 516.9,393.1 519.6,390.4 524.9,388.5 530.2,385.8 534.2,388.5 538.1,387.1 543.5,384.5 546.1,386.5 548.8,390.4 550.1,393.1 547.4,395.8 548.8,398.4 556.7,399.1 560.7,401.7 563.4,399.7 567.3,398.4 564.7,395.8 559.4,393.1 554.1,391.1 552.7,385.1 551.4,381.2 548.1,375.8 547.4,370.5 550.1,365.9 551.4,362.6" fill="#fff"/><polygon points="446.4,391.5 439.1,402.1 448.2,399.8 449.8,393.3" fill="#fff"/><polygon points="458.6,391.5 465.9,402.1 456.8,399.8 455.2,393.3" fill="#fff"/><polygon points="441.2,385.8 444.1,386.5 442.3,388.6" fill="#fff"/><polygon points="463.8,385.8 460.9,386.5 462.7,388.6" fill="#fff"/><polygon points="319.8,401.0 322.9,403.3 319.0,405.9 320.6,403.3" fill="#fff"/><polygon points="585.2,401.0 582.1,403.3 586.0,405.9 584.4,403.3" fill="#fff"/><polygon points="308.0,403.7 310.6,405.6 307.1,408.3" fill="#fff"/><polygon points="597.0,403.7 594.4,405.6 597.9,408.3" fill="#fff"/><polygon points="566.7,398.7 575.8,400.2 583.5,403.3 575.8,403.9 566.7,401.8" fill="#fff"/><polygon points="339.0,398.0 336.0,398.6 323.6,400.6 324.5,401.8 339.0,401.2" fill="#fff"/><polygon points="295.0,414.0 295.0,406.5 298.2,409.7 301.4,406.5 304.6,409.7 307.8,406.5 311.0,409.7 314.2,406.5 317.4,409.7 320.6,406.5 323.8,409.7 327.0,406.5 330.2,409.7 333.4,406.5 336.6,409.7 339.8,406.5 343.0,411.7 346.2,408.5 349.4,411.7 352.6,408.5 355.8,411.7 359.0,408.5 362.2,411.7 365.4,408.5 368.6,411.7 371.8,408.5 375.0,411.7 378.2,408.5 381.4,411.7 384.6,408.5 387.8,411.7 391.0,408.5 394.2,411.7 397.4,408.5 400.6,411.7 403.8,408.5 407.0,411.7 410.2,408.5 413.4,411.7 416.6,408.5 419.8,411.7 423.0,408.5 426.2,411.7 429.4,408.5 432.6,411.7 435.8,408.5 439.0,411.7 442.2,408.5 445.4,411.7 448.6,408.5 451.8,411.7 453.5,414.0" fill="#fff"/><polygon points="610.0,414.0 610.0,406.5 606.8,409.7 603.6,406.5 600.4,409.7 597.2,406.5 594.0,409.7 590.8,406.5 587.6,409.7 584.4,406.5 581.2,409.7 578.0,406.5 574.8,409.7 571.6,406.5 568.4,409.7 565.2,406.5 562.0,411.7 558.8,408.5 555.6,411.7 552.4,408.5 549.2,411.7 546.0,408.5 542.8,411.7 539.6,408.5 536.4,411.7 533.2,408.5 530.0,411.7 526.8,408.5 523.6,411.7 520.4,408.5 517.2,411.7 514.0,408.5 510.8,411.7 507.6,408.5 504.4,411.7 501.2,408.5 498.0,411.7 494.8,408.5 491.6,411.7 488.4,408.5 485.2,411.7 482.0,408.5 478.8,411.7 475.6,408.5 472.4,411.7 469.2,408.5 466.0,411.7 462.8,408.5 459.6,411.7 456.4,408.5 453.2,411.7 451.5,414.0" fill="#fff"/>
<polyline points="295.3,323.1 299.2,323.8 303.0,326.4 306.0,325.3 308.0,329.5 311.4,331.0 313.2,325.3 315.7,328.4 320.6,329.2 323.3,332.2 324.4,339.9 329.0,342.9 331.3,349.0 332.0,355.1 329.0,361.0 331.0,364.6 334.3,367.4 333.6,372.0 335.8,375.3 337.7,379.3 340.7,378.8 343.2,373.5 342.0,369.2 346.2,367.4 347.3,370.4 343.8,375.3 342.0,378.4 335.8,382.7 329.7,384.2 326.7,388.0 320.6,389.5 316.0,391.8 312.9,394.9 313.7,399.5 311.4,400.2 309.1,395.6 304.5,394.9 300.7,397.9 295.3,398.7" fill="none" stroke="#000" stroke-width="0.9" stroke-linejoin="round"/><polyline points="609.7,323.1 605.8,323.8 602.0,326.4 599.0,325.3 597.0,329.5 593.6,331.0 591.8,325.3 589.3,328.4 584.4,329.2 581.7,332.2 580.6,339.9 576.0,342.9 573.7,349.0 573.0,355.1 576.0,361.0 574.0,364.6 570.7,367.4 571.4,372.0 569.2,375.3 567.3,379.3 564.3,378.8 561.8,373.5 563.0,369.2 558.8,367.4 557.7,370.4 561.2,375.3 563.0,378.4 569.2,382.7 575.3,384.2 578.3,388.0 584.4,389.5 589.0,391.8 592.1,394.9 591.3,399.5 593.6,400.2 595.9,395.6 600.5,394.9 604.3,397.9 609.7,398.7" fill="none" stroke="#000" stroke-width="0.9" stroke-linejoin="round"/><polyline points="295.3,349.8 299.2,352.1 305.3,351.3 308.3,353.6 315.2,354.4 317.5,358.2 319.0,364.3 322.1,368.9 324.4,373.5 320.6,376.5 319.8,380.4 316.0,382.7 311.4,382.7 308.3,384.9 304.5,384.2 301.5,386.5 295.3,387.2" fill="none" stroke="#000" stroke-width="1.9" stroke-linejoin="round"/><polyline points="609.7,349.8 605.8,352.1 599.7,351.3 596.7,353.6 589.8,354.4 587.5,358.2 586.0,364.3 582.9,368.9 580.6,373.5 584.4,376.5 585.2,380.4 589.0,382.7 593.6,382.7 596.7,384.9 600.5,384.2 603.5,386.5 609.7,387.2" fill="none" stroke="#000" stroke-width="1.9" stroke-linejoin="round"/><polyline points="295.3,369.7 299.9,365.8 303.8,364.3 309.9,365.1 311.4,368.9 314.4,372.0 312.9,373.5 306.8,374.2 303.8,372.0 297.6,371.2 295.3,370.7" fill="none" stroke="#000" stroke-width="0.9" stroke-linejoin="round"/><polyline points="609.7,369.7 605.1,365.8 601.2,364.3 595.1,365.1 593.6,368.9 590.6,372.0 592.1,373.5 598.2,374.2 601.2,372.0 607.4,371.2 609.7,370.7" fill="none" stroke="#000" stroke-width="0.9" stroke-linejoin="round"/><polygon points="452.5,337.8 449.9,338.6 447.3,340.6 445.0,344.0 444.5,348.2 446.0,352.0 448.2,355.3 449.5,358.0 449.3,361.0 444.2,359.0 443.9,362.0 443.0,365.2 444.5,367.6 446.3,369.4 449.5,367.9 452.5,367.2 452.5,367.2 455.5,367.9 458.7,369.4 460.5,367.6 462.0,365.2 461.1,362.0 460.8,359.0 455.7,361.0 455.5,358.0 456.8,355.3 459.0,352.0 460.5,348.2 460.0,344.0 457.7,340.6 455.1,338.6 452.5,337.8" fill="none" stroke="#000" stroke-width="1.1" stroke-linejoin="round"/><rect x="449.6" y="343.2" width="6" height="2.5" fill="#000"/><polygon points="295.3,340.6 298.4,341.4 298.4,345.2 295.3,345.2" fill="#000"/><polygon points="609.7,340.6 606.6,341.4 606.6,345.2 609.7,345.2" fill="#000"/><polygon points="324.4,377.3 326.7,375.8 327.4,381.1 325.5,383.4 323.9,381.1" fill="#000"/><polygon points="580.6,377.3 578.3,375.8 577.6,381.1 579.5,383.4 581.1,381.1" fill="#000"/><polygon points="303.0,347.2 305.3,348.3 304.1,349.8" fill="#000"/><polygon points="602.0,347.2 599.7,348.3 600.9,349.8" fill="#000"/><polygon points="295.3,384.9 297.3,385.7 295.3,387.2" fill="#000"/><polygon points="609.7,384.9 607.7,385.7 609.7,387.2" fill="#000"/><polygon points="295.3,391.8 299.2,389.5 297.6,392.6" fill="#000"/><polygon points="609.7,391.8 605.8,389.5 607.4,392.6" fill="#000"/><polyline points="328.2,365.8 331.6,369.2" fill="none" stroke="#000" stroke-width="0.9" stroke-linejoin="round"/><polyline points="576.8,365.8 573.4,369.2" fill="none" stroke="#000" stroke-width="0.9" stroke-linejoin="round"/><polyline points="330.0,364.6 333.4,368.0" fill="none" stroke="#000" stroke-width="0.9" stroke-linejoin="round"/><polyline points="575.0,364.6 571.6,368.0" fill="none" stroke="#000" stroke-width="0.9" stroke-linejoin="round"/><polyline points="295.3,336.8 304.5,339.1" fill="none" stroke="#000" stroke-width="0.9" stroke-linejoin="round"/><polyline points="609.7,336.8 600.5,339.1" fill="none" stroke="#000" stroke-width="0.9" stroke-linejoin="round"/><polyline points="335.8,370.4 338.6,374.2" fill="none" stroke="#000" stroke-width="0.9" stroke-linejoin="round"/><polyline points="569.2,370.4 566.4,374.2" fill="none" stroke="#000" stroke-width="0.9" stroke-linejoin="round"/><polygon points="338.3,360.5 339.5,360.5 339.5,361.6 338.3,361.6" fill="#000"/><polygon points="566.7,360.5 565.5,360.5 565.5,361.6 566.7,361.6" fill="#000"/>
<rect x="295" y="223" width="314" height="1" fill="#8c00a4"/><rect x="295" y="224" width="314" height="1" fill="#7000aa" opacity="0.85"/><rect x="295" y="225" width="314" height="1" fill="#5800b0" opacity="0.6"/>
</g>
<polygon points="431.9,223.4 434.2,220 440.9,220 443.4,223.4" fill="#8c00a2"/>
<polygon points="443.4,223.4 447.0,220 457.0,220 459.6,223.4" fill="#8c00a2"/>
<polygon points="461.0,223.4 463.2,220 469.6,220 472.2,223.4" fill="#8c00a2"/>
<rect x="294" y="146" width="316" height="317" fill="none" stroke="#000" stroke-width="2"/>
<rect x="308" y="147" width="1" height="5" fill="#000"/>
<rect x="308" y="457" width="1" height="5" fill="#000"/>
<rect x="324" y="147" width="1" height="5" fill="#000"/>
<rect x="324" y="457" width="1" height="5" fill="#000"/>
<rect x="340" y="147" width="1" height="5" fill="#000"/>
<rect x="340" y="457" width="1" height="5" fill="#000"/>
<rect x="356" y="147" width="1" height="5" fill="#000"/>
<rect x="356" y="457" width="1" height="5" fill="#000"/>
<rect x="371" y="147" width="2" height="9" fill="#000"/>
<rect x="371" y="453" width="2" height="9" fill="#000"/>
<rect x="388" y="147" width="1" height="5" fill="#000"/>
<rect x="388" y="457" width="1" height="5" fill="#000"/>
<rect x="404" y="147" width="1" height="5" fill="#000"/>
<rect x="404" y="457" width="1" height="5" fill="#000"/>
<rect x="420" y="147" width="1" height="5" fill="#000"/>
<rect x="420" y="457" width="1" height="5" fill="#000"/>
<rect x="436" y="147" width="1" height="5" fill="#000"/>
<rect x="436" y="457" width="1" height="5" fill="#000"/>
<rect x="451" y="147" width="2" height="9" fill="#000"/>
<rect x="451" y="453" width="2" height="9" fill="#000"/>
<rect x="468" y="147" width="1" height="5" fill="#000"/>
<rect x="468" y="457" width="1" height="5" fill="#000"/>
<rect x="484" y="147" width="1" height="5" fill="#000"/>
<rect x="484" y="457" width="1" height="5" fill="#000"/>
<rect x="500" y="147" width="1" height="5" fill="#000"/>
<rect x="500" y="457" width="1" height="5" fill="#000"/>
<rect x="516" y="147" width="1" height="5" fill="#000"/>
<rect x="516" y="457" width="1" height="5" fill="#000"/>
<rect x="531" y="147" width="2" height="9" fill="#000"/>
<rect x="531" y="453" width="2" height="9" fill="#000"/>
<rect x="548" y="147" width="1" height="5" fill="#000"/>
<rect x="548" y="457" width="1" height="5" fill="#000"/>
<rect x="564" y="147" width="1" height="5" fill="#000"/>
<rect x="564" y="457" width="1" height="5" fill="#000"/>
<rect x="580" y="147" width="1" height="5" fill="#000"/>
<rect x="580" y="457" width="1" height="5" fill="#000"/>
<rect x="596" y="147" width="1" height="5" fill="#000"/>
<rect x="596" y="457" width="1" height="5" fill="#000"/>
<rect x="295" y="448" width="4" height="1" fill="#000"/>
<rect x="605" y="448" width="4" height="1" fill="#000"/>
<rect x="295" y="432" width="4" height="1" fill="#000"/>
<rect x="605" y="432" width="4" height="1" fill="#000"/>
<rect x="295" y="416" width="4" height="1" fill="#000"/>
<rect x="605" y="416" width="4" height="1" fill="#000"/>
<rect x="295" y="400" width="4" height="1" fill="#000"/>
<rect x="605" y="400" width="4" height="1" fill="#000"/>
<rect x="295" y="383" width="9" height="2" fill="#000"/>
<rect x="600" y="383" width="9" height="2" fill="#000"/>
<rect x="295" y="368" width="4" height="1" fill="#000"/>
<rect x="605" y="368" width="4" height="1" fill="#000"/>
<rect x="295" y="352" width="4" height="1" fill="#000"/>
<rect x="605" y="352" width="4" height="1" fill="#000"/>
<rect x="295" y="336" width="4" height="1" fill="#000"/>
<rect x="605" y="336" width="4" height="1" fill="#000"/>
<rect x="295" y="320" width="4" height="1" fill="#000"/>
<rect x="605" y="320" width="4" height="1" fill="#000"/>
<rect x="295" y="304" width="9" height="2" fill="#000"/>
<rect x="600" y="304" width="9" height="2" fill="#000"/>
<rect x="295" y="288" width="4" height="1" fill="#000"/>
<rect x="605" y="288" width="4" height="1" fill="#000"/>
<rect x="295" y="272" width="4" height="1" fill="#000"/>
<rect x="605" y="272" width="4" height="1" fill="#000"/>
<rect x="295" y="256" width="4" height="1" fill="#000"/>
<rect x="605" y="256" width="4" height="1" fill="#000"/>
<rect x="295" y="241" width="4" height="1" fill="#000"/>
<rect x="605" y="241" width="4" height="1" fill="#000"/>
<rect x="295" y="224" width="9" height="2" fill="#000"/>
<rect x="600" y="224" width="9" height="2" fill="#000"/>
<rect x="295" y="209" width="4" height="1" fill="#000"/>
<rect x="605" y="209" width="4" height="1" fill="#000"/>
<rect x="295" y="193" width="4" height="1" fill="#000"/>
<rect x="605" y="193" width="4" height="1" fill="#000"/>
<rect x="295" y="177" width="4" height="1" fill="#000"/>
<rect x="605" y="177" width="4" height="1" fill="#000"/>
<rect x="295" y="161" width="4" height="1" fill="#000"/>
<rect x="605" y="161" width="4" height="1" fill="#000"/>
<rect x="315" y="598" width="274" height="20" fill="#000"/>
<rect x="317" y="600" width="1" height="16" fill="#9600c8"/>
<rect x="320" y="600" width="1" height="16" fill="#9100c8"/>
<rect x="323" y="600" width="1" height="16" fill="#8c00c8"/>
<rect x="328" y="600" width="1" height="16" fill="#6d00c8"/>
<rect x="331" y="600" width="1" height="16" fill="#4000d7"/>
<rect x="336" y="600" width="1" height="16" fill="#0900fa"/>
<rect x="339" y="600" width="1" height="16" fill="#0702fb"/>
<rect x="342" y="600" width="1" height="16" fill="#0504fc"/>
<rect x="347" y="600" width="1" height="16" fill="#0306fd"/>
<rect x="350" y="600" width="1" height="16" fill="#0108fe"/>
<rect x="355" y="600" width="1" height="16" fill="#000bff"/>
<rect x="358" y="600" width="1" height="16" fill="#001cff"/>
<rect x="361" y="600" width="1" height="16" fill="#002eff"/>
<rect x="366" y="600" width="1" height="16" fill="#0040ff"/>
<rect x="369" y="600" width="1" height="16" fill="#0052ff"/>
<rect x="374" y="600" width="1" height="16" fill="#0065ff"/>
<rect x="377" y="600" width="1" height="16" fill="#0073ff"/>
<rect x="382" y="600" width="1" height="16" fill="#0081ff"/>
<rect x="385" y="600" width="1" height="16" fill="#008fff"/>
<rect x="388" y="600" width="1" height="16" fill="#00a7ff"/>
<rect x="393" y="600" width="1" height="16" fill="#00c1ff"/>
<rect x="396" y="600" width="1" height="16" fill="#00daff"/>
<rect x="401" y="600" width="1" height="16" fill="#00f4ff"/>
<rect x="404" y="600" width="1" height="16" fill="#00f8f2"/>
<rect x="407" y="600" width="1" height="16" fill="#00fce6"/>
<rect x="412" y="600" width="1" height="16" fill="#00ffd8"/>
<rect x="415" y="600" width="1" height="16" fill="#00ffc1"/>
<rect x="420" y="600" width="1" height="16" fill="#00ffa9"/>
<rect x="423" y="600" width="1" height="16" fill="#00ff90"/>
<rect x="426" y="600" width="1" height="16" fill="#00ff78"/>
<rect x="431" y="600" width="1" height="16" fill="#00ff5e"/>
<rect x="434" y="600" width="1" height="16" fill="#04ff3e"/>
<rect x="439" y="600" width="1" height="16" fill="#07ff1e"/>
<rect x="442" y="600" width="1" height="16" fill="#11ff08"/>
<rect x="445" y="600" width="1" height="16" fill="#29ff03"/>
<rect x="450" y="600" width="1" height="16" fill="#3fff00"/>
<rect x="453" y="600" width="1" height="16" fill="#52ff00"/>
<rect x="458" y="600" width="1" height="16" fill="#65ff00"/>
<rect x="461" y="600" width="1" height="16" fill="#77ff00"/>
<rect x="464" y="600" width="1" height="16" fill="#88ff00"/>
<rect x="469" y="600" width="1" height="16" fill="#9aff00"/>
<rect x="472" y="600" width="1" height="16" fill="#adff00"/>
<rect x="477" y="600" width="1" height="16" fill="#bfff00"/>
<rect x="480" y="600" width="1" height="16" fill="#c9ff00"/>
<rect x="483" y="600" width="1" height="16" fill="#d4ff00"/>
<rect x="488" y="600" width="1" height="16" fill="#dfff00"/>
<rect x="491" y="600" width="1" height="16" fill="#ebff00"/>
<rect x="496" y="600" width="1" height="16" fill="#f7ff00"/>
<rect x="499" y="600" width="1" height="16" fill="#fffc00"/>
<rect x="502" y="600" width="1" height="16" fill="#fff800"/>
<rect x="507" y="600" width="1" height="16" fill="#fff000"/>
<rect x="510" y="600" width="1" height="16" fill="#ffdf00"/>
<rect x="515" y="600" width="1" height="16" fill="#ffcf00"/>
<rect x="518" y="600" width="1" height="16" fill="#ffc300"/>
<rect x="521" y="600" width="1" height="16" fill="#ffb600"/>
<rect x="526" y="600" width="1" height="16" fill="#ffaa00"/>
<rect x="529" y="600" width="1" height="16" fill="#ff8e00"/>
<rect x="534" y="600" width="1" height="16" fill="#ff7300"/>
<rect x="537" y="600" width="1" height="16" fill="#ff5e00"/>
<rect x="542" y="600" width="1" height="16" fill="#ff4900"/>
<rect x="545" y="600" width="1" height="16" fill="#ff3300"/>
<rect x="548" y="600" width="1" height="16" fill="#ff1b00"/>
<rect x="553" y="600" width="1" height="16" fill="#ff0300"/>
<rect x="556" y="600" width="1" height="16" fill="#ff1111"/>
<rect x="561" y="600" width="1" height="16" fill="#ff2525"/>
<rect x="564" y="600" width="1" height="16" fill="#ff3838"/>
<rect x="567" y="600" width="1" height="16" fill="#ff4848"/>
<rect x="572" y="600" width="1" height="16" fill="#ff5858"/>
<rect x="575" y="600" width="1" height="16" fill="#ff6462"/>
<rect x="580" y="600" width="1" height="16" fill="#ff6f6b"/>
<rect x="583" y="600" width="1" height="16" fill="#ff7b74"/>
<rect x="586" y="600" width="1" height="16" fill="#ff877d"/>
<text class="th" id="t_title" x="335.5" y="101.6" font-size="25.80" text-anchor="start" letter-spacing="1.00" style="font-family:'DejaVu Sans Light','DejaVu Sans','Liberation Sans',sans-serif;font-weight:200" word-spacing="6.5">density of cloud</text>
<text class="th" id="t_xl" x="375.5" y="536.9" font-size="22.20" text-anchor="start" letter-spacing="0.00" style="font-family:'DejaVu Sans Light','DejaVu Sans','Liberation Sans',sans-serif;font-weight:200" >X<tspan dx="2.5" textLength="17" lengthAdjust="spacingAndGlyphs">-</tspan><tspan dx="2">coordinate</tspan></text>
<text class="th" id="t_zl" x="0.0" y="0.0" font-size="22.20" text-anchor="start" letter-spacing="0.00" style="font-family:'DejaVu Sans Light','DejaVu Sans','Liberation Sans',sans-serif;font-weight:200" transform="translate(248.6,380.6) rotate(-90)">Z<tspan dx="2.5" textLength="17" lengthAdjust="spacingAndGlyphs">-</tspan><tspan dx="2">coordinate</tspan></text>
<text class="tk" id="t_z15" x="284.6" y="230.9" font-size="18.60" text-anchor="end" letter-spacing="0.00" style="font-family:'Liberation Sans',sans-serif;" >15</text>
<text class="tk" id="t_z10" x="284.6" y="310.9" font-size="18.60" text-anchor="end" letter-spacing="0.00" style="font-family:'Liberation Sans',sans-serif;" >10</text>
<text class="tk" id="t_z5" x="284.6" y="390.3" font-size="18.60" text-anchor="end" letter-spacing="0.00" style="font-family:'Liberation Sans',sans-serif;" >5</text>
<text class="tk" id="t_x5" x="372.4" y="484.6" font-size="18.60" text-anchor="middle" letter-spacing="0.00" style="font-family:'Liberation Sans',sans-serif;" >5</text>
<text class="tk" id="t_x10" x="452.7" y="484.6" font-size="18.60" text-anchor="middle" letter-spacing="0.00" style="font-family:'Liberation Sans',sans-serif;" >10</text>
<text class="tk" id="t_x15" x="533.0" y="484.6" font-size="18.60" text-anchor="middle" letter-spacing="0.00" style="font-family:'Liberation Sans',sans-serif;" >15</text>
<text class="tk" id="t_u1" x="205.2" y="495.8" font-size="18.40" text-anchor="start" letter-spacing="1.50" style="font-family:'Liberation Sans',sans-serif;" >(×1000 m)</text>
<text class="tk" id="t_u2" x="526.2" y="506.8" font-size="18.40" text-anchor="start" letter-spacing="1.50" style="font-family:'Liberation Sans',sans-serif;" >(×1000 m)</text>
<text class="md" id="t_ci0" x="305.0" y="582.6" font-size="18.50" text-anchor="start" letter-spacing="0.00" style="font-family:'Liberation Sans',sans-serif" textLength="79.5" lengthAdjust="spacingAndGlyphs">CONTOUR</text>
<text class="md" id="t_ci1" x="394.3" y="582.6" font-size="18.50" text-anchor="start" letter-spacing="0.00" style="font-family:'Liberation Sans',sans-serif" textLength="76.0" lengthAdjust="spacingAndGlyphs">INTERVAL</text>
<text class="md" id="t_ci2" x="480.0" y="582.6" font-size="18.50" text-anchor="start" letter-spacing="0.00" style="font-family:'Liberation Sans',sans-serif" textLength="12.5" lengthAdjust="spacingAndGlyphs">=</text>
<text class="m2" id="t_ci3" x="503.6" y="582.6" font-size="18.50" text-anchor="start" letter-spacing="0.00" style="font-family:'Liberation Sans',sans-serif;;" textLength="96.0" lengthAdjust="spacingAndGlyphs">5.000E-05</text>
<text class="md" id="t_cb0" x="290.7" y="637.0" font-size="17.90" text-anchor="start" letter-spacing="0.20" style="font-family:'Liberation Sans',sans-serif" >1e<tspan textLength="11.7" lengthAdjust="spacingAndGlyphs">-</tspan>16</text>
<text class="md" id="t_cb1" x="349.7" y="637.0" font-size="17.90" text-anchor="start" letter-spacing="0.20" style="font-family:'Liberation Sans',sans-serif" >4e<tspan textLength="11.7" lengthAdjust="spacingAndGlyphs">-</tspan>5</text>
<text class="md" id="t_cb2" x="403.9" y="637.0" font-size="17.90" text-anchor="start" letter-spacing="0.20" style="font-family:'Liberation Sans',sans-serif" >8e<tspan textLength="11.7" lengthAdjust="spacingAndGlyphs">-</tspan>5</text>
<text class="md" id="t_cb3" x="452.4" y="637.0" font-size="17.90" text-anchor="start" letter-spacing="-0.60" style="font-family:'Liberation Sans',sans-serif" >1.2e<tspan textLength="10.9" lengthAdjust="spacingAndGlyphs">-</tspan>4</text>
<text class="md" id="t_cb4" x="505.1" y="637.0" font-size="17.90" text-anchor="start" letter-spacing="-0.40" style="font-family:'Liberation Sans',sans-serif" >1.6e<tspan textLength="11.1" lengthAdjust="spacingAndGlyphs">-</tspan>4</text>
<text class="md" id="t_cb5" x="566.9" y="637.0" font-size="17.90" text-anchor="start" letter-spacing="0.30" style="font-family:'Liberation Sans',sans-serif" >2e<tspan textLength="11.8" lengthAdjust="spacingAndGlyphs">-</tspan>4</text>
<text class="th" id="t_time" x="633.0" y="608.9" font-size="16.50" text-anchor="start" letter-spacing="-0.20" style="font-family:'DejaVu Sans Light','DejaVu Sans','Liberation Sans',sans-serif;font-weight:200" word-spacing="3.6">t=4200 s</text>
<text class="sm" id="t_f1" x="25.0" y="652.0" font-size="9.40" text-anchor="start" letter-spacing="0.80" style="font-family:'DejaVu Sans Light','DejaVu Sans','Liberation Sans',sans-serif;font-weight:200" xml:space="preserve">/usr/bin/gpview  2008-09-18</text>
<text class="sm" id="t_f2" x="530.6" y="652.0" font-size="9.00" text-anchor="start" letter-spacing="0.16" style="font-family:'DejaVu Sans Light','DejaVu Sans','Liberation Sans',sans-serif;font-weight:200" >MarsCond_DensCloud.nc@DensCloud,x=0:20000,z=0:20000,t=4200</text>
</svg>
</body></html>
